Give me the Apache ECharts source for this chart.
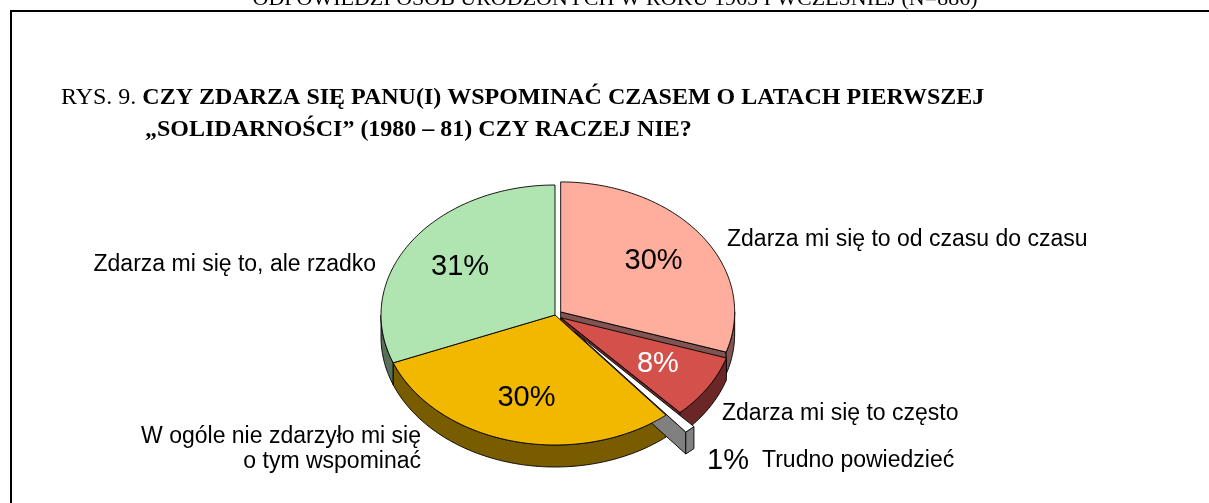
<!DOCTYPE html>
<html><head><meta charset="utf-8">
<script src="https://cdn.jsdelivr.net/npm/echarts@6/dist/echarts.min.js"></script>
<style>html,body{margin:0;padding:0;background:#fff}#c{width:1209px;height:503px}</style>
</head><body><div id="c"></div>
<script>
// ---- data ----
const categories = ['Zdarza mi się to od czasu do czasu', 'Zdarza mi się to często', 'Trudno powiedzieć', 'W ogóle nie zdarzyło mi się\no tym wspominać', 'Zdarza mi się to, ale rzadko'];
const values = [30, 8, 1, 30, 31];
const headerText = 'ODPOWIEDZI OSÓB URODZONYCH W ROKU 1965 I WCZEŚNIEJ (N=886)';
const titlePrefix = 'RYS. 9. ';
const titleLine1 = 'CZY ZDARZA SIĘ PANU(I) WSPOMINAĆ CZASEM O LATACH PIERWSZEJ';
const titleLine2 = '„SOLIDARNOŚCI” (1980 – 81) CZY RACZEJ NIE?';

// ---- styles ----
const topColors = ['#FFAD9C', '#D4514B', '#FFFFFF', '#F2B800', '#B0E4B0'];
const sideColors = ['#805450', '#6B2727', '#808080', '#7A5C00', '#587058'];
const insideLabelColors = ['#000', '#fff', '#000', '#000', '#000'];
const explode = [7, 7, 30, 0, 0];
const wallOrder = [1, 3, 4, 2, 0];
const outsideLabelPos = [
  {x: 727, y: 240, align: 'left'},
  {x: 722, y: 414, align: 'left'},
  {x: 707, y: 461, align: 'left'},
  {x: 421, y: 449, align: 'right'},
  {x: 376, y: 265, align: 'right'}
];
const CX = 555, CY = 315, RX = 174, RY = 130, DEPTH = 22;
const SANS = '"Liberation Sans", Arial, sans-serif';
const SERIF = '"Liberation Serif", "Times New Roman", serif';

const total = values.reduce((a, b) => a + b, 0);
function sliceAngles(i) {
  let s = 0;
  for (let k = 0; k < i; k++) s += values[k];
  return [s / total * 2 * Math.PI, (s + values[i]) / total * 2 * Math.PI];
}
function arc(a0, a1, ox, oy, dz) {
  const pts = [];
  const n = Math.max(2, Math.ceil(Math.abs(a1 - a0) / (Math.PI / 180)));
  for (let k = 0; k <= n; k++) {
    const a = a0 + (a1 - a0) * k / n;
    pts.push([CX + ox + RX * Math.sin(a), CY + oy - RY * Math.cos(a) + dz]);
  }
  return pts;
}
const strokeStyle = {stroke: '#000', lineWidth: 0.9, lineJoin: 'round'};

function renderItem(params, api) {
  const i = params.dataIndex;
  const v = api.value(0);
  const [a0, a1] = sliceAngles(i);
  const m = (a0 + a1) / 2;
  const e = explode[i];
  const ox = e * Math.sin(m), oy = -e * Math.cos(m) * (RY / RX);
  const apex = [CX + ox, CY + oy];
  const children = [];
  const wz = 10 + wallOrder[i] * 3;
  const radial = (a) => {
    const p = [CX + ox + RX * Math.sin(a), CY + oy - RY * Math.cos(a)];
    children.push({type: 'polygon', z2: wz,
      shape: {points: [apex, p, [p[0], p[1] + DEPTH], [apex[0], apex[1] + DEPTH]]},
      style: Object.assign({fill: sideColors[i]}, strokeStyle)});
  };
  if (Math.sin(a1) > 1e-6) radial(a1);
  if (Math.sin(a0) < -1e-6) radial(a0);
  const s = Math.max(a0, Math.PI / 2), t = Math.min(a1, Math.PI * 1.5);
  if (t > s) {
    const topArc = arc(s, t, ox, oy, 0);
    const botArc = arc(s, t, ox, oy, DEPTH).reverse();
    children.push({type: 'polygon', z2: wz + 1,
      shape: {points: topArc.concat(botArc)},
      style: Object.assign({fill: sideColors[i]}, strokeStyle)});
  }
  children.push({type: 'polygon', z2: 100,
    shape: {points: [apex].concat(arc(a0, a1, ox, oy, 0))},
    style: Object.assign({fill: topColors[i]}, strokeStyle)});
  const pct = Math.round(v / total * 100) + '%';
  const lp = outsideLabelPos[i];
  if (i !== 2) {
    children.push({type: 'text', z2: 200,
      x: CX + ox + RX * 0.66 * Math.sin(m), y: CY + oy - RY * 0.66 * Math.cos(m),
      style: {text: pct, fill: insideLabelColors[i], font: '29px ' + SANS, align: 'center', verticalAlign: 'middle'}});
    children.push({type: 'text', z2: 200, x: lp.x, y: lp.y,
      style: {text: categories[i], fill: '#000', font: '23px ' + SANS, align: lp.align, verticalAlign: 'middle', lineHeight: 25}});
  } else {
    children.push({type: 'text', z2: 200, x: lp.x, y: lp.y,
      style: {text: '{p|' + pct + '}{n|' + categories[i] + '}', align: 'left', verticalAlign: 'middle',
        rich: {p: {font: '29px ' + SANS, fill: '#000', width: 55}, n: {font: '23px ' + SANS, fill: '#000'}}}});
  }
  return {type: 'group', children};
}

const chart = echarts.init(document.getElementById('c'), null, {renderer: 'canvas'});
chart.setOption({
  backgroundColor: '#fff',
  animation: false,
  graphic: [
    {type: 'text', x: 615, y: 10, z: 10,
      style: {text: headerText, font: '22px ' + SERIF, fill: '#000', align: 'center', verticalAlign: 'bottom'}},
    {type: 'polyline', z: 10, shape: {points: [[1209, 11], [11, 11], [11, 503]]},
      style: {stroke: '#000', lineWidth: 2, fill: null}},
    {type: 'text', x: 61, y: 98, z: 10,
      style: {text: '{r|' + titlePrefix + '}{b|' + titleLine1 + '}', verticalAlign: 'middle',
        rich: {r: {font: '24px ' + SERIF, fill: '#000'}, b: {font: 'bold 24px ' + SERIF, fill: '#000'}}}},
    {type: 'text', x: 145, y: 130, z: 10,
      style: {text: titleLine2, font: 'bold 24px ' + SERIF, fill: '#000', verticalAlign: 'middle'}}
  ],
  series: [{
    type: 'custom',
    coordinateSystem: 'none',
    data: values.map((v, i) => ({name: categories[i], value: [v]})),
    renderItem: renderItem
  }]
});
</script>
</body></html>
